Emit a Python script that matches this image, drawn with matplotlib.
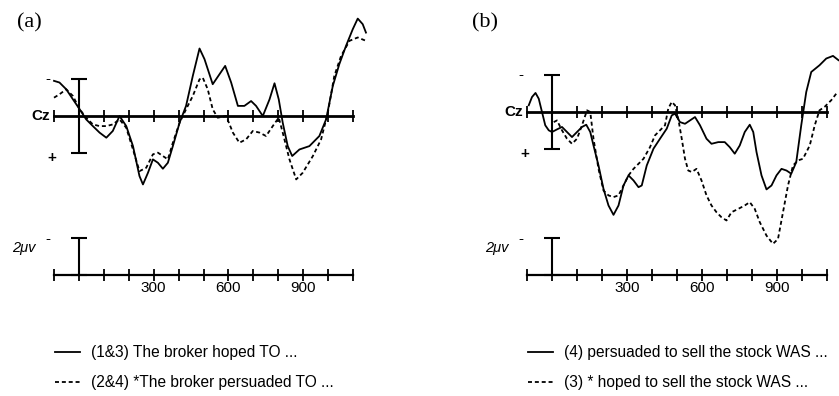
import numpy as np
import matplotlib.pyplot as plt
from matplotlib.ticker import FixedLocator, FixedFormatter

# ---------------------------------------------
# ERP waveforms at Cz (ms, microvolts; negative plotted up)
# ---------------------------------------------
a_solid_t = [-100, -78, -51, -24, 3, 29, 56, 83, 110, 136, 163, 190, 217, 243, 257,
             277, 297, 317, 337, 357, 377, 404, 430, 457, 484, 504, 537, 564, 587,
             611, 638, 664, 691, 711, 738, 765, 785, 802, 818, 838, 856, 885, 925,
             965, 992, 1019, 1045, 1072, 1099, 1119, 1139, 1152]
a_solid_v = [-1.88, -1.79, -1.43, -0.89, -0.36, 0.18, 0.54, 0.89, 1.16, 0.80, 0.0,
             0.54, 1.61, 3.21, 3.66, 3.04, 2.32, 2.50, 2.82, 2.50, 1.61, 0.36, -0.54,
             -2.14, -3.61, -3.04, -1.70, -2.23, -2.68, -1.79, -0.54, -0.54, -0.80,
             -0.54, 0.0, -0.89, -1.75, -0.89, 0.36, 1.61, 2.14, 1.79, 1.61, 1.07,
             0.18, -1.61, -2.77, -3.75, -4.64, -5.21, -4.91, -4.46]

a_dash_t = [-100, -78, -51, -24, 3, 29, 56, 83, 110, 136, 163, 190, 217, 243, 270,
            297, 317, 337, 357, 377, 404, 430, 457, 484, 497, 517, 537, 557, 591,
            618, 644, 671, 698, 725, 751, 778, 802, 818, 845, 872, 898, 939, 972,
            999, 1025, 1052, 1086, 1119, 1152]
a_dash_v = [-0.98, -1.16, -1.43, -1.07, -0.36, 0.09, 0.45, 0.54, 0.54, 0.45, 0.18,
            0.63, 1.79, 2.95, 2.77, 2.05, 1.96, 2.14, 2.32, 1.43, 0.36, -0.36, -1.07,
            -1.96, -2.05, -1.43, -0.36, 0.09, 0.0, 0.89, 1.43, 1.25, 0.80, 0.89,
            1.07, 0.54, 0.09, 0.89, 2.32, 3.39, 3.04, 2.14, 1.25, -0.18, -2.14,
            -3.21, -4.02, -4.20, -4.02]

b_solid_t = [-93, -80, -66, -53, -40, -27, -13, 0, 20, 40, 60, 80, 100, 120, 137,
             153, 166, 186, 206, 226, 246, 266, 286, 306, 326, 346, 359, 379, 406,
             432, 459, 479, 492, 512, 532, 552, 572, 592, 618, 638, 665, 691, 711,
             731, 751, 771, 791, 805, 818, 838, 858, 878, 898, 918, 938, 957, 977,
             997, 1017, 1037, 1070, 1097, 1124, 1146]
b_solid_v = [-0.36, -0.80, -1.02, -0.71, 0.0, 0.71, 0.98, 1.07, 0.93, 0.80, 1.07,
             1.34, 1.07, 0.80, 0.68, 1.07, 1.79, 2.86, 4.11, 5.00, 5.50, 5.00, 3.93,
             3.39, 3.66, 4.02, 3.93, 2.86, 1.96, 1.43, 0.89, 0.18, 0.09, 0.54, 0.63,
             0.45, 0.27, 0.71, 1.43, 1.70, 1.61, 1.61, 1.88, 2.23, 1.79, 1.07, 0.68,
             1.07, 2.14, 3.39, 4.14, 3.93, 3.39, 3.04, 3.13, 3.30, 2.68, 0.71, -1.07,
             -2.14, -2.50, -2.86, -3.00, -2.77]

b_dash_t = [7, 20, 40, 60, 80, 100, 120, 140, 153, 166, 186, 206, 226, 246, 266,
            286, 306, 326, 346, 366, 392, 412, 432, 452, 465, 479, 492, 505, 519,
            532, 545, 559, 578, 598, 618, 638, 658, 678, 698, 718, 745, 771, 791,
            811, 831, 858, 884, 904, 924, 944, 964, 984, 1004, 1031, 1051, 1070,
            1090, 1117, 1137]
b_dash_v = [0.54, 0.45, 0.98, 1.43, 1.70, 1.43, 0.71, -0.09, 0.0, 1.43, 3.04, 4.20,
            4.46, 4.55, 4.46, 3.93, 3.39, 3.04, 2.77, 2.50, 1.88, 1.25, 0.98, 0.71,
            -0.18, -0.54, -0.36, 0.36, 1.43, 2.50, 3.13, 3.21, 3.04, 3.66, 4.46,
            5.00, 5.36, 5.63, 5.80, 5.36, 5.18, 5.00, 4.82, 5.18, 5.89, 6.61, 7.05,
            6.79, 5.36, 3.93, 2.86, 2.59, 2.50, 1.79, 0.71, -0.09, -0.27, -0.63, -0.98]

time_ticks = list(range(-100, 1101, 100))
time_labels = ["300", "600", "900"]
calib_uv = 2.0

legend_a = ["(1&3) The broker hoped TO ...", "(2&4) *The broker persuaded TO ..."]
legend_b = ["(4) persuaded to sell the stock WAS ...", "(3) * hoped to sell the stock WAS ..."]

W, H = 839, 396
SANS = ["Liberation Sans", "DejaVu Sans"]
SERIF = ["Liberation Serif", "DejaVu Serif"]
DASH = (0, (2.2, 1.6))


def draw_panel(fig, x0, x1, cz_y, tag, tag_x, solid, dash, legend):
    px_per_ms = (x1 - x0) / 1200.0
    px_per_uv = 18.7
    top, bottom = 5, 275
    ax = fig.add_axes([x0 / W, (H - bottom) / H, (x1 - x0) / W, (bottom - top) / H])
    ax.set_xlim(-100, 1100)
    ax.set_ylim((bottom - cz_y) / px_per_uv, (top - cz_y) / px_per_uv)
    ax.patch.set_visible(False)

    for s in ("left", "right"):
        ax.spines[s].set_visible(False)
    ax.spines["top"].set_position(("data", 0))
    ax.spines["top"].set_linewidth(2.0)
    ax.spines["bottom"].set_linewidth(1.6)
    ax.set_yticks([])

    ax.xaxis.set_major_locator(FixedLocator(time_ticks))
    ax.xaxis.set_major_formatter(FixedFormatter(
        [str(t) if str(t) in time_labels else "" for t in time_ticks]))
    ax.tick_params(axis="x", which="both", top=True, bottom=True, labeltop=False,
                   direction="inout", length=8, width=1.3, pad=0, labelsize=11)
    for lab in ax.get_xticklabels():
        lab.set_family(SANS)

    ax.plot(solid[0], solid[1], color="black", lw=1.3, clip_on=False)
    ax.plot(dash[0], dash[1], color="black", lw=1.3, ls=DASH, clip_on=False)

    # calibration bars
    ax.errorbar([0], [0], yerr=calib_uv, fmt="none", ecolor="black",
                elinewidth=1.5, capsize=5.5, capthick=1.5, clip_on=False)
    ybot = ax.get_ylim()[0]
    ax.errorbar([0], [ybot], yerr=[[calib_uv], [0]], fmt="none", ecolor="black",
                elinewidth=1.5, capsize=5.5, capthick=1.5, clip_on=False)

    off = 1.0 / px_per_ms  # ms per pixel
    ax.text(-100 - 4 * off, 0, "Cz", ha="right", va="center", fontsize=11,
            family=SANS, weight="bold")
    ax.text(-100 - 6 * off, -calib_uv, "-", ha="center", va="center", fontsize=11,
            family=SANS)
    ax.text(-100 - 2 * off, calib_uv + 0.25, "+", ha="center", va="center",
            fontsize=11, family=SANS, weight="bold")
    ax.text(-100 - 6 * off, ybot - calib_uv + 0.05, "-", ha="center", va="center",
            fontsize=11, family=SANS)
    ax.text(-100 - 18 * off, ybot - calib_uv + 0.55, "2\u03bcv", ha="right",
            va="center", fontsize=10.5, family=SANS, style="italic")

    fig.text(tag_x / W, 1 - 23 / H, tag, ha="left", va="center",
             fontsize=16, family=SERIF)

    # legend
    for i, (txt, style) in enumerate(zip(legend, ["-", DASH])):
        yy = 1 - (352 + 30 * i) / H
        fig.add_artist(plt.Line2D([(x0 + 1) / W, (x0 + 26) / W], [yy, yy],
                                  color="black", lw=1.3, ls=style))
        fig.text((x0 + 37) / W, yy, txt, ha="left", va="center", fontsize=11.2,
                 family=SANS)
    return ax


fig = plt.figure(figsize=(W / 100, H / 100), dpi=100)
draw_panel(fig, 54, 353, 116, "(a)", 17, (a_solid_t, a_solid_v), (a_dash_t, a_dash_v),
           legend_a)
draw_panel(fig, 527, 827, 112, "(b)", 472, (b_solid_t, b_solid_v), (b_dash_t, b_dash_v),
           legend_b)
fig.savefig("out.png", dpi=100)
